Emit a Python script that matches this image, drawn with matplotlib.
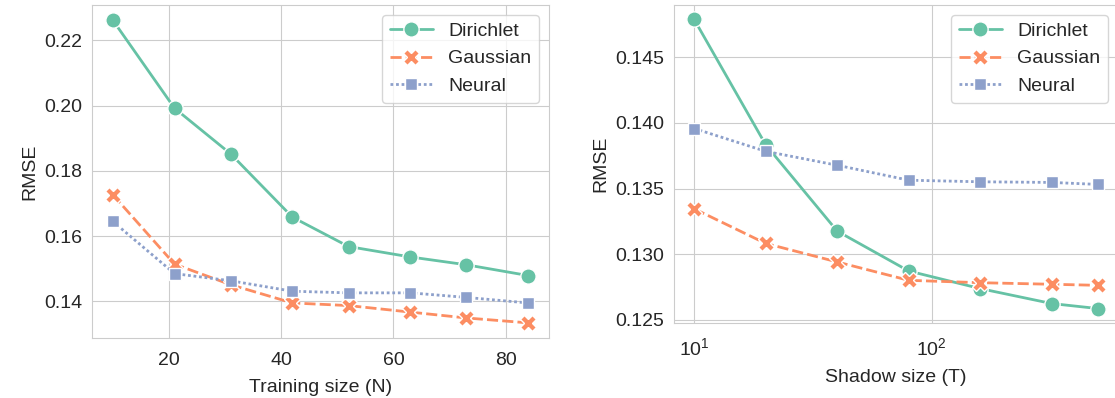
import matplotlib
matplotlib.use("Agg")
import matplotlib.pyplot as plt
import seaborn as sns

# %% Data
train_sizes = [10, 21, 31, 42, 52, 63, 73, 84]
train_dirichlet = [0.2262, 0.1992, 0.1852, 0.1658, 0.1568, 0.1536, 0.1512, 0.1479]
train_gaussian = [0.1727, 0.1514, 0.1451, 0.1395, 0.1387, 0.1367, 0.1349, 0.1334]
train_neural = [0.1645, 0.1485, 0.1463, 0.1431, 0.1426, 0.1426, 0.1412, 0.1395]

shadow_sizes = [10, 20, 40, 80, 160, 320, 500]
shadow_dirichlet = [0.14789, 0.13834, 0.13176, 0.12872, 0.12738, 0.12624, 0.12586]
shadow_gaussian = [0.13346, 0.13082, 0.12941, 0.12801, 0.12783, 0.12771, 0.12763]
shadow_neural = [0.13958, 0.13784, 0.13678, 0.13564, 0.13552, 0.13547, 0.13532]

methods = ["Dirichlet", "Gaussian", "Neural"]

# %% Style (seaborn-like lineplot look)
sns.set_style("whitegrid")
plt.rcParams['font.family'] = ['Liberation Sans', 'DejaVu Sans']
colors = sns.color_palette("Set2", 3)
dashes = [None, (4, 1.5), (1, 1)]
markers = ["o", "X", "s"]
msizes = [11, 11, 8.5]
FS = 14


def draw(ax, x, series):
    for i, (name, y) in enumerate(zip(methods, series)):
        line, = ax.plot(x, y, color=colors[i], lw=2, marker=markers[i],
                        markersize=msizes[i], markeredgecolor="white",
                        markeredgewidth=1, label=name)
        if dashes[i] is not None:
            line.set_dashes(dashes[i])
    ax.set_ylabel("RMSE", fontsize=FS)
    ax.tick_params(axis="both", labelsize=FS)
    ax.tick_params(axis="x", pad=6.5)
    ax.legend(loc="upper right", fontsize=FS, handlelength=2.2, frameon=True)


fig = plt.figure(figsize=(11.15, 3.98), dpi=100)
W, H = 1115, 398

# left panel
ax1 = fig.add_axes([92 / W, 1 - 338 / H, (549 - 92) / W, (338 - 5) / H])
draw(ax1, train_sizes, [train_dirichlet, train_gaussian, train_neural])
ax1.set_xlabel("Training size (N)", fontsize=FS, labelpad=7.5)
ax1.set_yticks([0.14, 0.16, 0.18, 0.20, 0.22])

# right panel (runs slightly past the image edge, as in the reference)
ax2 = fig.add_axes([674 / W, 1 - 323 / H, (1118 - 674) / W, (323 - 5) / H])
draw(ax2, shadow_sizes, [shadow_dirichlet, shadow_gaussian, shadow_neural])
ax2.set_xscale("log")
ax2.set_xlabel("Shadow size (T)", fontsize=FS, labelpad=7.5)
ax2.set_yticks([0.125, 0.130, 0.135, 0.140, 0.145])

fig.savefig("out.png", dpi=100)
